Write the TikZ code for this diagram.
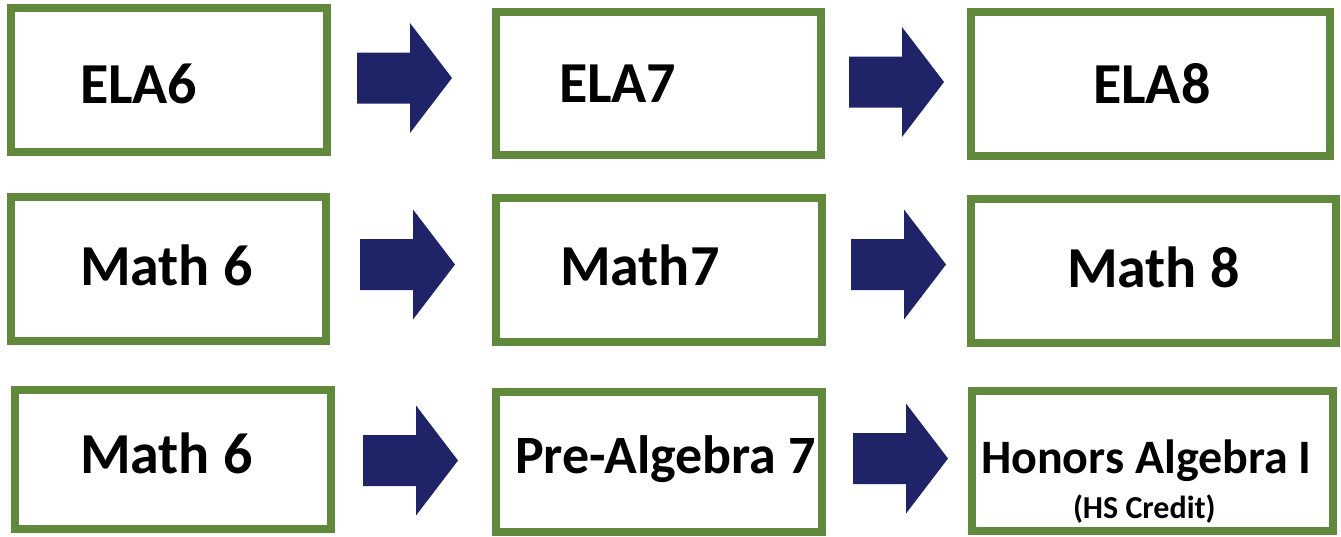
\documentclass[tikz,border=0pt]{standalone}
\usepackage{fontspec}
\setmainfont{Carlito}
\definecolor{boxgreen}{RGB}{97,137,60}
\definecolor{navyblue}{RGB}{31,35,104}
\tikzset{
  course/.style={draw=boxgreen, line width=8pt, rectangle, inner sep=0pt, outer sep=0pt},
  lbl/.style={anchor=base west, inner sep=0pt, outer sep=0pt, text=black},
  bigtxt/.style={lbl, font=\fontsize{58}{60}\selectfont\bfseries},
  midtxt/.style={lbl, font=\fontsize{54}{56}\selectfont\bfseries},
  smalltxt/.style={lbl, font=\fontsize{48}{50}\selectfont\bfseries},
  tinytxt/.style={lbl, font=\fontsize{32}{34}\selectfont\bfseries},
  barrow/.style={fill=navyblue},
}
\newcommand{\blockarrow}[3]{%
  \coordinate (#1) at (#2,#3);
  \fill[barrow] (#1) ++(0,-25.5) -- ++(53,0) -- ++(0,-29.5) -- ++(42,55) -- ++(-42,55) -- ++(0,-29.5) -- ++(-53,0) -- cycle;
}
\begin{document}
\begin{tikzpicture}[x=1pt,y=-1pt]
\useasboundingbox (0,0) rectangle (1341,536);
\fill[white] (0,0) rectangle (1341,536);
% row 1
\node[course, minimum width=316pt, minimum height=144pt] (a1) at (169,80) {};
\node[course, minimum width=325pt, minimum height=143pt] (a2) at (658.5,83.5) {};
\node[course, minimum width=359pt, minimum height=144pt] (a3) at (1150.5,84) {};
% row 2
\node[course, minimum width=315pt, minimum height=144pt] (b1) at (168.5,269) {};
\node[course, minimum width=326pt, minimum height=144pt] (b2) at (659,270) {};
\node[course, minimum width=365pt, minimum height=144pt] (b3) at (1153.5,271) {};
% row 3
\node[course, minimum width=316pt, minimum height=139pt] (c1) at (173,459.5) {};
\node[course, minimum width=326pt, minimum height=140pt] (c2) at (659,462) {};
\node[course, minimum width=361pt, minimum height=140pt] (c3) at (1152.5,461) {};
% labels
\node[bigtxt] (ela6) at (80,103) {ELA6};
\node[bigtxt] (ela7) at (559,102) {ELA7};
\node[bigtxt] (ela8) at (1093,103) {ELA8};
\node[bigtxt] (math6) at (80,285) {Math 6};
\node[bigtxt] (math7) at (560,285) {Math7};
\node[bigtxt] (math8) at (1067,287) {Math 8};
\node[bigtxt] (math6b) at (80,473) {Math 6};
\node[midtxt] (prealg) at (515,473) {Pre-Algebra 7};
\node[smalltxt] (honors) at (981,473) {Honors Algebra I};
\node[tinytxt] (hscredit) at (1073,518) {(HS Credit)};
% block arrows
\blockarrow{arA}{357}{78}
\blockarrow{arB}{849}{82}
\blockarrow{arC}{360}{264.5}
\blockarrow{arD}{851}{264.5}
\blockarrow{arE}{363}{460.5}
\blockarrow{arF}{853}{458.5}
\end{tikzpicture}
\end{document}
